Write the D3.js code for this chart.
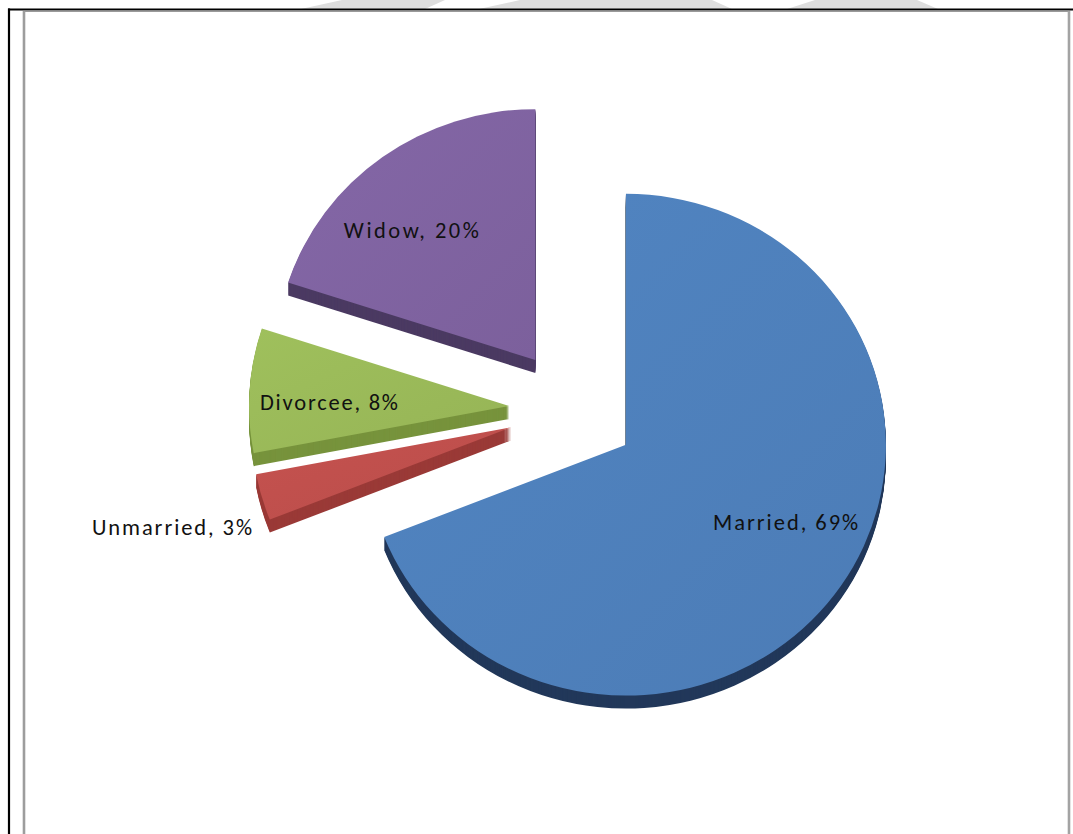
<!DOCTYPE html>
<html>
<head>
<meta charset="utf-8">
<script src="https://cdn.jsdelivr.net/npm/d3@7/dist/d3.min.js"></script>
<style>
  html, body { margin: 0; padding: 0; background: #ffffff; }
  svg { display: block; }
</style>
</head>
<body>
<div id="chart"></div>
<script>
// Marital status shares (%)
const categories = ["Married", "Unmarried", "Divorcee", "Widow"];
const values = [69, 3, 8, 20];
const labels = ["Married, 69%", "Unmarried, 3%", "Divorcee, 8%", "Widow, 20%"];

// Office-style palette: top face, side face
const topColors  = ["#4f81bd", "#c0504d", "#9bbb59", "#8064a2"];
const sideColors = ["#22385a", "#9a3a37", "#77933c", "#4b3a62"];

const W = 1073, H = 834;
const svg = d3.select("#chart").append("svg")
  .attr("width", W).attr("height", H)
  .attr("viewBox", `0 0 ${W} ${H}`);

// faint shapes bleeding in above the frame
const ghost = [
  [[301, 9], [342, 0], [445, 0], [425, 9]],
  [[479, 9], [520, 0], [712, 0], [732, 9]],
  [[787, 9], [815, 0], [917, 0], [938, 9]]
];
svg.selectAll("polygon.ghost").data(ghost).join("polygon")
  .attr("class", "ghost")
  .attr("points", d => d.map(p => p.join(",")).join(" "))
  .attr("fill", "#dedede");

// frame lines
svg.append("line").attr("x1", 8).attr("x2", W).attr("y1", 9.5).attr("y2", 9.5)
  .attr("stroke", "#000").attr("stroke-width", 2.2);
svg.append("line").attr("x1", 9).attr("x2", 9).attr("y1", 8.5).attr("y2", H)
  .attr("stroke", "#000").attr("stroke-width", 2.2);
svg.append("line").attr("x1", 23.5).attr("x2", 1069).attr("y1", 11.3).attr("y2", 11.3)
  .attr("stroke", "#9a9a9a").attr("stroke-width", 1.2);
svg.append("line").attr("x1", 24).attr("x2", 24).attr("y1", 11).attr("y2", H)
  .attr("stroke", "#9d9d9d").attr("stroke-width", 2.6);
svg.append("line").attr("x1", 1069).attr("x2", 1069).attr("y1", 11).attr("y2", H)
  .attr("stroke", "#a3a3a3").attr("stroke-width", 2.6);

// pie geometry
const cx = 573, cy = 410;        // pie centre before exploding
const R = 260;                   // radius (horizontal)
const tilt = 0.965;              // vertical squash of the tilted pie
const explode = 64;              // slice pull-out distance
const depth = 13;                // thickness of the pie

const pie = d3.pie().sort(null).value(d => d)
  .startAngle(0).endAngle(2 * Math.PI);
const arcs = pie(values);
const arc = d3.arc().innerRadius(0).outerRadius(R);

// gradients for the top faces
const defs = svg.append("defs");
arcs.forEach((a, i) => {
  const base = d3.color(topColors[i]);
  const g = defs.append("linearGradient")
    .attr("id", "grad" + i)
    .attr("x1", "0%").attr("y1", "0%").attr("x2", "100%").attr("y2", "100%");
  g.append("stop").attr("offset", "0%").attr("stop-color", base.brighter(0.08));
  g.append("stop").attr("offset", "100%").attr("stop-color", base.darker(0.1));
});

// label placement relative to each slice's own origin, in radius units
const labelShift = [[0.614, 0.298], [-1.306, 0.384], [-0.693, -0.018], [-0.477, -0.501]];
const labelWidth = [145, 160, 138, 135];

function origin(a) {
  const mid = (a.startAngle + a.endAngle) / 2;
  return [cx + explode * Math.sin(mid), cy - explode * Math.cos(mid) * tilt];
}

// draw back-to-front: widow, divorcee, unmarried, married
const order = [3, 2, 1, 0];
order.forEach(i => {
  const a = arcs[i];
  const [ox, oy] = origin(a);
  const g = svg.append("g").attr("transform", `translate(${ox},${oy})`);

  // side extrusion
  const side = g.append("g");
  for (let k = depth; k >= 1; k--) {
    side.append("path")
      .attr("transform", `translate(0,${k}) scale(1,${tilt})`)
      .attr("d", arc(a))
      .attr("fill", sideColors[i]);
  }
  // top face
  g.append("path")
    .attr("transform", `scale(1,${tilt})`)
    .attr("d", arc(a))
    .attr("fill", `url(#grad${i})`);
});

// data labels
arcs.forEach((a, i) => {
  const [ox, oy] = origin(a);
  const [ux, uy] = labelShift[i];
  svg.append("text")
    .attr("x", ox + ux * R)
    .attr("y", oy + uy * R)
    .attr("dy", "0.36em")
    .attr("text-anchor", "middle")
    .attr("font-family", "Carlito, Calibri, Lato, 'Open Sans', sans-serif")
    .attr("font-size", 22.5)
    .attr("fill", "#111")
    .attr("textLength", labelWidth[i])
    .attr("lengthAdjust", "spacing")
    .text(labels[i]);
});
</script>
</body>
</html>
